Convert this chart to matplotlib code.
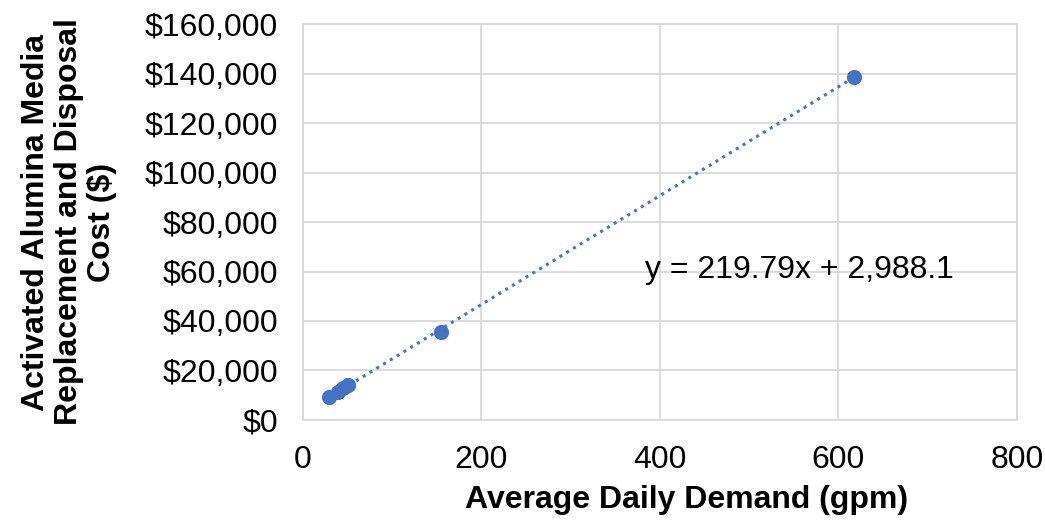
import numpy as np
import matplotlib.pyplot as plt
from matplotlib.ticker import FuncFormatter

plt.rcParams['font.family'] = ['Liberation Sans', 'DejaVu Sans']

# Average daily demand (gpm) and media replacement/disposal cost ($)
demand = [29, 39, 45, 50, 155, 617]
cost = [9400, 11500, 12900, 14000, 35500, 138600]
x_ticks = [0, 200, 400, 600, 800]
y_ticks = [0, 20000, 40000, 60000, 80000, 100000, 120000, 140000, 160000]
eq_text = "y = 219.79x + 2,988.1"

blue = "#4472C4"
grid_c = "#d9d9d9"

fig = plt.figure(figsize=(10.45, 5.23), dpi=100)
ax = fig.add_axes([0.29, 0.197, 0.683, 0.757])

ax.scatter(demand, cost, s=120, color=blue, zorder=3, linewidths=0)

# linear trendline
slope, intercept = np.polyfit(demand, cost, 1)
xs = np.array([min(demand), max(demand)])
ax.plot(xs, slope * xs + intercept, color=blue, linestyle=(0, (1, 1.6)),
        linewidth=2.2, zorder=2)
ax.text(383, 60500, eq_text, fontsize=23, va="center", ha="left")

ax.set_xlim(0, 800)
ax.set_ylim(0, 160000)
ax.set_xticks(x_ticks)
ax.set_yticks(y_ticks)
ax.yaxis.set_major_formatter(FuncFormatter(lambda v, p: "${:,.0f}".format(v)))
ax.tick_params(length=0, labelsize=23, pad=18)
ax.grid(True, color=grid_c, linewidth=1.3)
ax.set_axisbelow(True)
for s in ax.spines.values():
    s.set_color(grid_c)
    s.set_linewidth(1.3)

ax.set_xlabel("Average Daily Demand (gpm)", fontsize=23, fontweight="bold", labelpad=9)
ax.xaxis.set_label_coords(0.538, -0.165)
ax.set_ylabel("Activated Alumina Media\nReplacement and Disposal\nCost ($)",
              fontsize=23, fontweight="bold", labelpad=20, linespacing=1.12)

plt.savefig("out.png", dpi=100)
